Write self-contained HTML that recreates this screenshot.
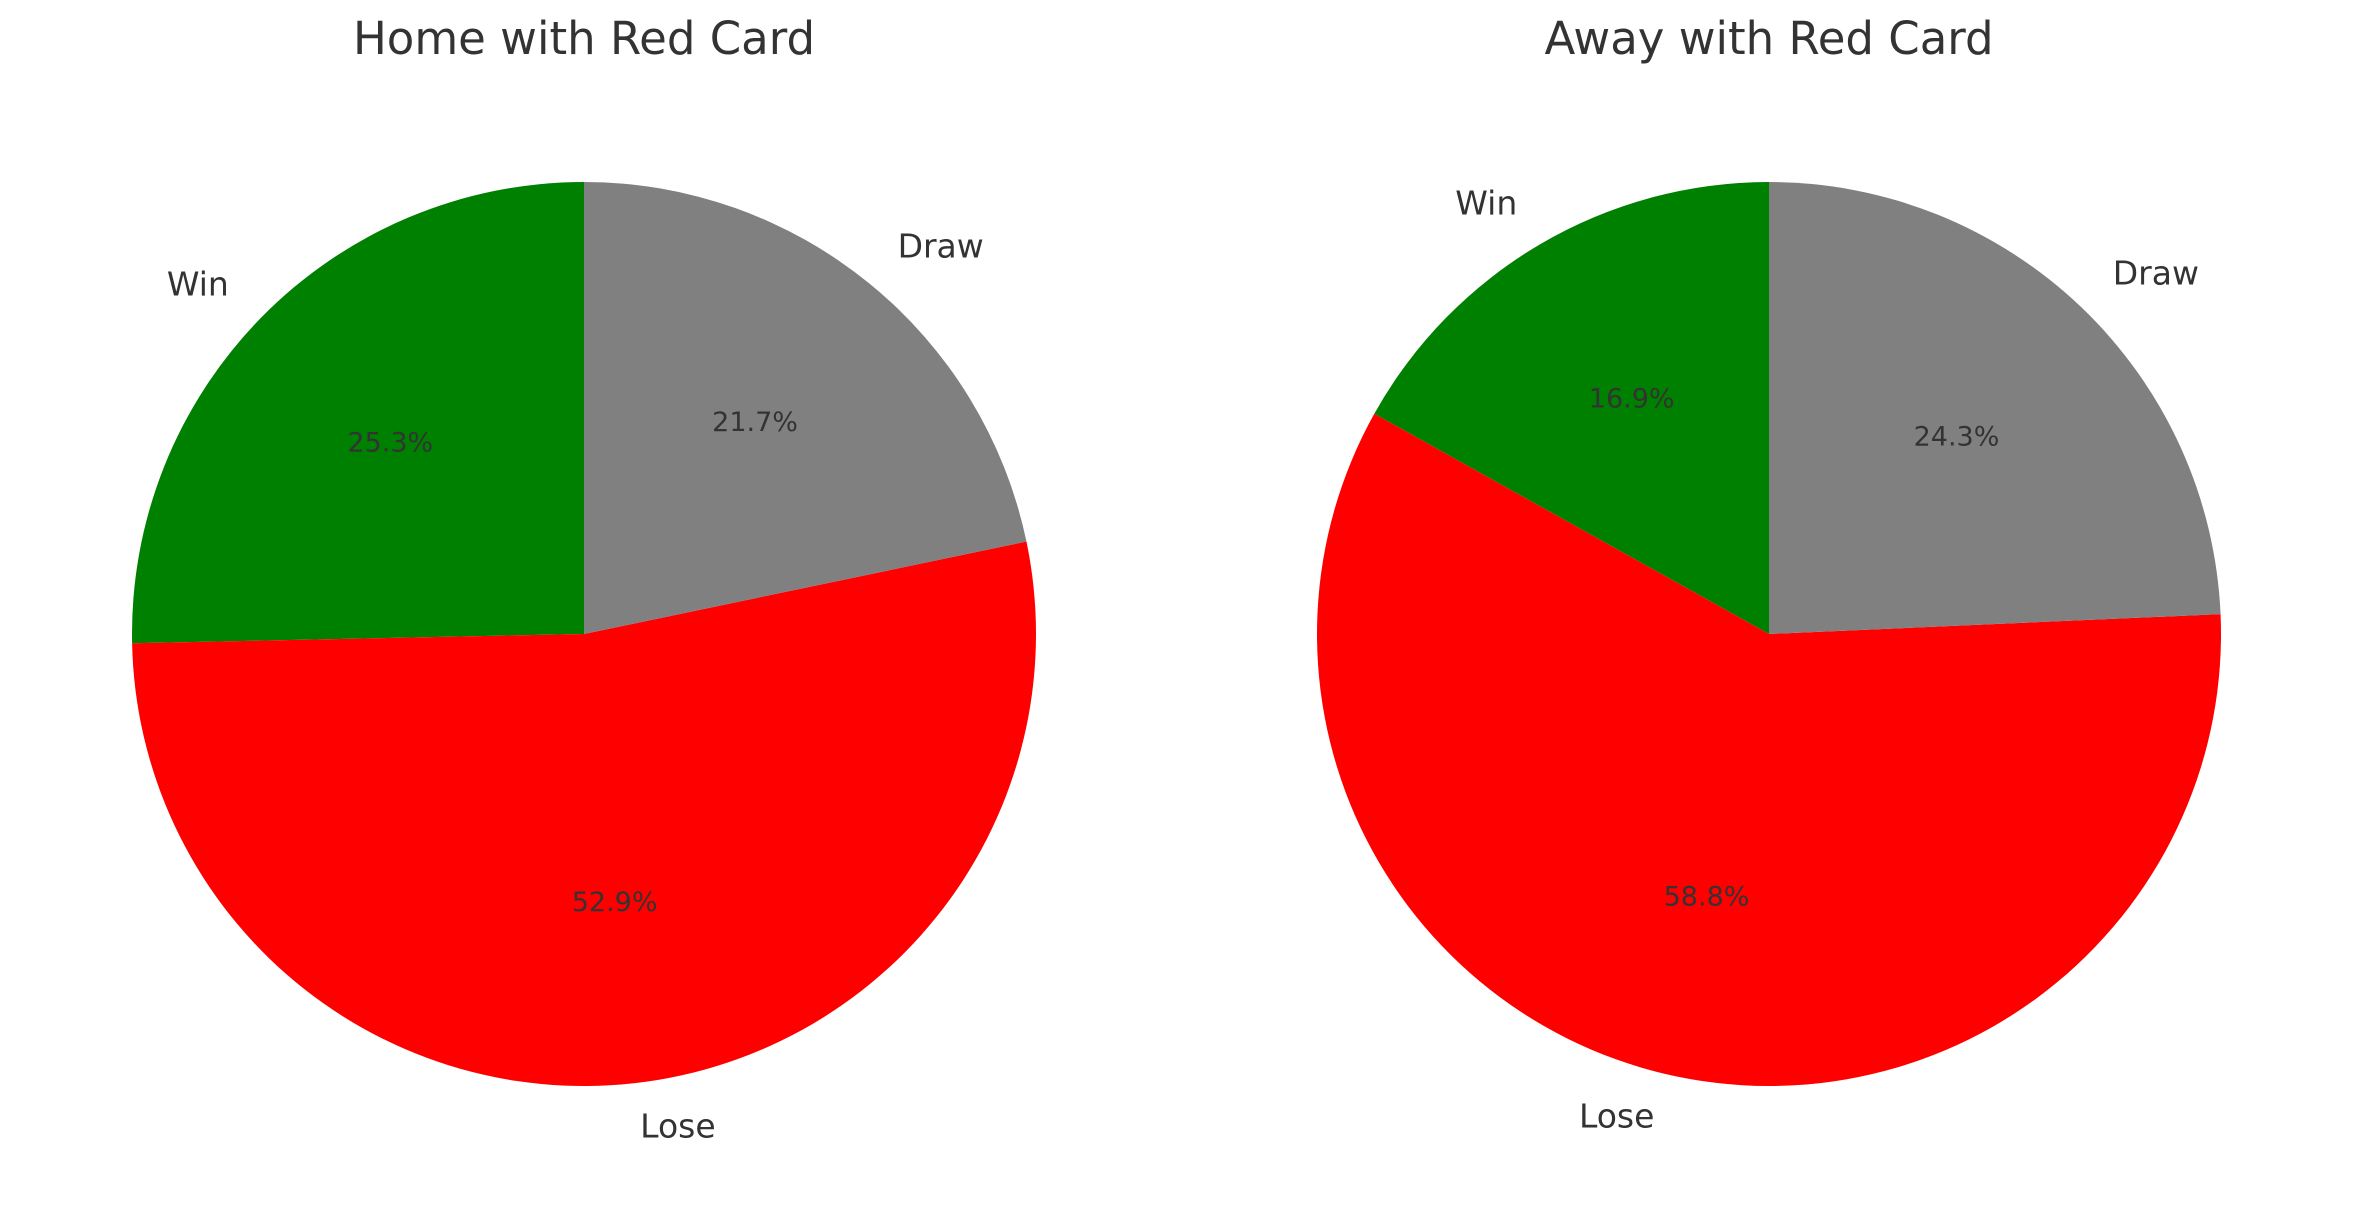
<!DOCTYPE html>
<html>
<head>
<meta charset="utf-8">
<style>
html,body{margin:0;padding:0;background:#fff;}
svg{display:block;}
text{font-family:"DejaVu Sans","Liberation Sans",sans-serif;fill:#333;}
</style>
</head>
<body>
<svg id="chart" width="2353" height="1219" viewBox="0 0 2353 1219" xmlns="http://www.w3.org/2000/svg">
  <text x="584" y="42" font-size="45" text-anchor="middle" dominant-baseline="middle">Home with Red Card</text>
  <text x="1769" y="42" font-size="45" text-anchor="middle" dominant-baseline="middle">Away with Red Card</text>
</svg>
<script>
const categories = ["Win", "Lose", "Draw"];
const homeValues = [25.3, 52.9, 21.7];
const awayValues = [16.9, 58.8, 24.3];
const colors = ["#008000", "#ff0000", "#808080"];

const svg = document.getElementById('chart');
const NS = "http://www.w3.org/2000/svg";
const R = 452;

function drawPie(cx, cy, values, prefix) {
  const total = values.reduce((a, b) => a + b, 0);
  let start = 90;
  values.forEach((v, i) => {
    const sweep = v / total * 360;
    const end = start + sweep;
    const a0 = start * Math.PI / 180, a1 = end * Math.PI / 180;
    const x0 = cx + R * Math.cos(a0), y0 = cy - R * Math.sin(a0);
    const x1 = cx + R * Math.cos(a1), y1 = cy - R * Math.sin(a1);
    const large = sweep > 180 ? 1 : 0;
    const p = document.createElementNS(NS, 'path');
    p.setAttribute('d', `M${cx},${cy} L${x0},${y0} A${R},${R} 0 ${large} 0 ${x1},${y1} Z`);
    p.setAttribute('fill', colors[i]);
    
    
    svg.appendChild(p);

    const mid = (start + sweep / 2) * Math.PI / 180;
    const lx = cx + 1.1 * R * Math.cos(mid), ly = cy - 1.1 * R * Math.sin(mid);
    const t = document.createElementNS(NS, 'text');
    t.setAttribute('x', lx);
    t.setAttribute('y', ly);
    t.setAttribute('font-size', '33');
    t.setAttribute('dominant-baseline', 'middle');
    t.setAttribute('text-anchor', Math.cos(mid) < 0 ? 'end' : 'start');
    t.textContent = categories[i];
    
    
    svg.appendChild(t);

    const px = cx + 0.6 * R * Math.cos(mid), py = cy - 0.6 * R * Math.sin(mid);
    const pt = document.createElementNS(NS, 'text');
    pt.setAttribute('x', px);
    pt.setAttribute('y', py);
    pt.setAttribute('font-size', '27');
    pt.setAttribute('dominant-baseline', 'middle');
    pt.setAttribute('text-anchor', 'middle');
    pt.textContent = v.toFixed(1) + '%';
    
    
    svg.appendChild(pt);

    start = end;
  });
}
drawPie(584, 634, homeValues, 'home');
drawPie(1769, 634, awayValues, 'away');
</script>
</body>
</html>
